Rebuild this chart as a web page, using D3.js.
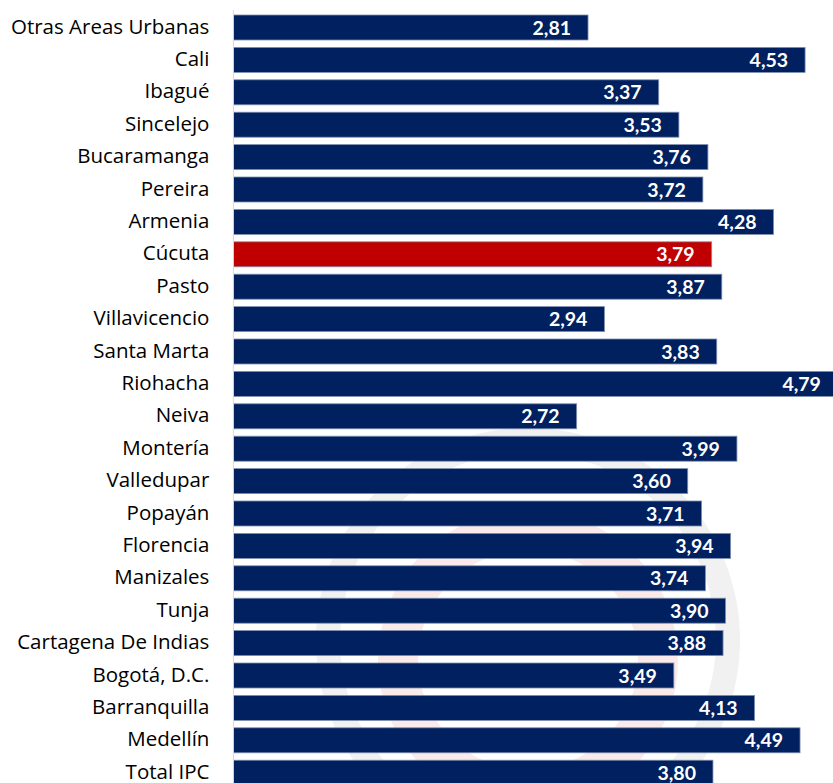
<!DOCTYPE html>
<html lang="es">
<head>
<meta charset="UTF-8">
<script src="https://d3js.org/d3.v7.min.js"></script>
<style>
  body { margin: 0; background: #fff; }
  svg { display: block; }
</style>
</head>
<body>
<script>
// Ciudades (de arriba hacia abajo) y variación anual
const ciudades = ['Otras Areas Urbanas', 'Cali', 'Ibagué', 'Sincelejo', 'Bucaramanga', 'Pereira',
    'Armenia', 'Cúcuta', 'Pasto', 'Villavicencio', 'Santa Marta', 'Riohacha', 'Neiva', 'Montería',
    'Valledupar', 'Popayán', 'Florencia', 'Manizales', 'Tunja', 'Cartagena De Indias',
    'Bogotá, D.C.', 'Barranquilla', 'Medellín', 'Total IPC'];
const valores = [2.81, 4.53, 3.37, 3.53, 3.76, 3.72, 4.28, 3.79, 3.87, 2.94, 3.83, 4.79, 2.72, 3.99,
    3.60, 3.71, 3.94, 3.74, 3.90, 3.88, 3.49, 4.13, 4.49, 3.80];
const destacada = 'Cúcuta';

const W = 833, H = 783;
const x0 = 233.4;
const pitch = 32.4;

const svg = d3.select('body').append('svg')
    .attr('width', W)
    .attr('height', H);

// Marca de agua (logo tenue)
const wm = svg.append('g').attr('opacity', 0.5);
wm.append('circle')
    .attr('cx', 528).attr('cy', 640).attr('r', 200)
    .attr('fill', 'none')
    .attr('stroke', '#e4e4e4')
    .attr('stroke-width', 24);
wm.append('circle')
    .attr('cx', 528).attr('cy', 660).attr('r', 130)
    .attr('fill', 'none')
    .attr('stroke', '#f6d6d6')
    .attr('stroke-width', 40);

const x = d3.scaleLinear()
    .domain([0, 1])
    .range([x0, x0 + 126.2]);

const y = d3.scaleBand()
    .domain(ciudades)
    .range([15 - (pitch - 25) / 2, 15 - (pitch - 25) / 2 + pitch * ciudades.length])
    .paddingInner((pitch - 25) / pitch)
    .paddingOuter((pitch - 25) / pitch / 2);

// Barras
svg.selectAll('rect.bar')
    .data(ciudades)
    .enter()
    .append('rect')
    .attr('class', 'bar')
    .attr('x', x(0))
    .attr('y', d => y(d))
    .attr('width', (d, i) => x(valores[i]) - x(0))
    .attr('height', y.bandwidth())
    .attr('fill', d => d === destacada ? '#c00000' : '#002060')
    .attr('stroke', '#7f8fb0')
    .attr('stroke-width', 0.8);

// Etiquetas de valores
svg.selectAll('text.val')
    .data(ciudades)
    .enter()
    .append('text')
    .attr('class', 'val')
    .attr('x', (d, i) => x(valores[i]) - 17)
    .attr('y', d => y(d) + y.bandwidth() / 2)
    .attr('dy', '0.36em')
    .attr('text-anchor', 'end')
    .attr('font-family', 'Lato, sans-serif')
    .attr('font-weight', 'bold')
    .attr('font-size', '19.5px')
    .attr('fill', '#fff')
    .text((d, i) => d3.format('.2f')(valores[i]).replace('.', ','));

// Eje vertical con nombres de ciudades
const eje = svg.append('g')
    .attr('transform', `translate(${x0}, 0)`)
    .call(d3.axisLeft(y).tickSize(0).tickPadding(24));
eje.select('.domain')
    .attr('stroke', '#d9d9d9')
    .attr('d', `M0,10V${H}`);
eje.selectAll('text')
    .attr('dy', '0.3em')
    .attr('font-family', '"Open Sans", sans-serif')
    .attr('font-size', '20.5px')
    .attr('fill', '#000');
</script>
</body>
</html>
